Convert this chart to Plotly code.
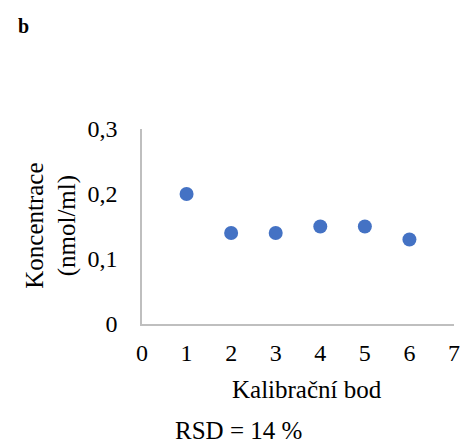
import plotly.graph_objects as go

# Data
kalibracni_bod = [1, 2, 3, 4, 5, 6]
koncentrace = [0.20, 0.14, 0.14, 0.15, 0.15, 0.13]
x_ticks = [0, 1, 2, 3, 4, 5, 6, 7]
y_ticks = [0, 0.1, 0.2, 0.3]
y_tick_labels = ["0", "0,1", "0,2", "0,3"]

FONT = "Liberation Serif, Times New Roman, serif"

fig = go.Figure()
fig.add_trace(go.Scatter(
    x=kalibracni_bod, y=koncentrace, mode="markers",
    marker=dict(color="#4472C4", size=14),
    showlegend=False,
))

# the page adds an 8px body margin, so the figure is drawn 8px smaller
fig.update_layout(
    width=460, height=435,
    margin=dict(l=134, r=8, t=121, b=119),
    paper_bgcolor="white", plot_bgcolor="white",
    font=dict(family=FONT, size=24, color="black"),
    xaxis=dict(
        range=[0, 7], tickvals=x_ticks, ticktext=[str(v) for v in x_ticks],
        showgrid=False, zeroline=False, showline=True, linecolor="#BFBFBF", linewidth=1.5,
        ticks="", ticklabelstandoff=6,
    ),
    yaxis=dict(
        range=[0, 0.3], tickvals=y_ticks, ticktext=y_tick_labels,
        showgrid=False, zeroline=False, showline=True, linecolor="#BFBFBF", linewidth=1.5,
        ticks="", ticklabelstandoff=18,
    ),
    annotations=[
        dict(text="Koncentrace<br>(nmol/ml)", xref="paper", yref="paper",
             x=-0.289, y=0.503, xanchor="center", yanchor="middle",
             textangle=-90, showarrow=False, font=dict(size=25)),
        dict(text="Kalibrační bod", xref="paper", yref="paper",
             x=0.528, y=-0.338, xanchor="center", yanchor="middle",
             showarrow=False, font=dict(size=25)),
        dict(text="RSD = 14 %", xref="paper", yref="paper",
             x=0.308, y=-0.544, xanchor="center", yanchor="middle",
             showarrow=False, font=dict(size=25)),
        dict(text="<b>b</b>", xref="paper", yref="paper",
             x=-0.380, y=1.528, xanchor="center", yanchor="middle",
             showarrow=False, font=dict(size=20)),
    ],
)

fig.write_html("out.html")
